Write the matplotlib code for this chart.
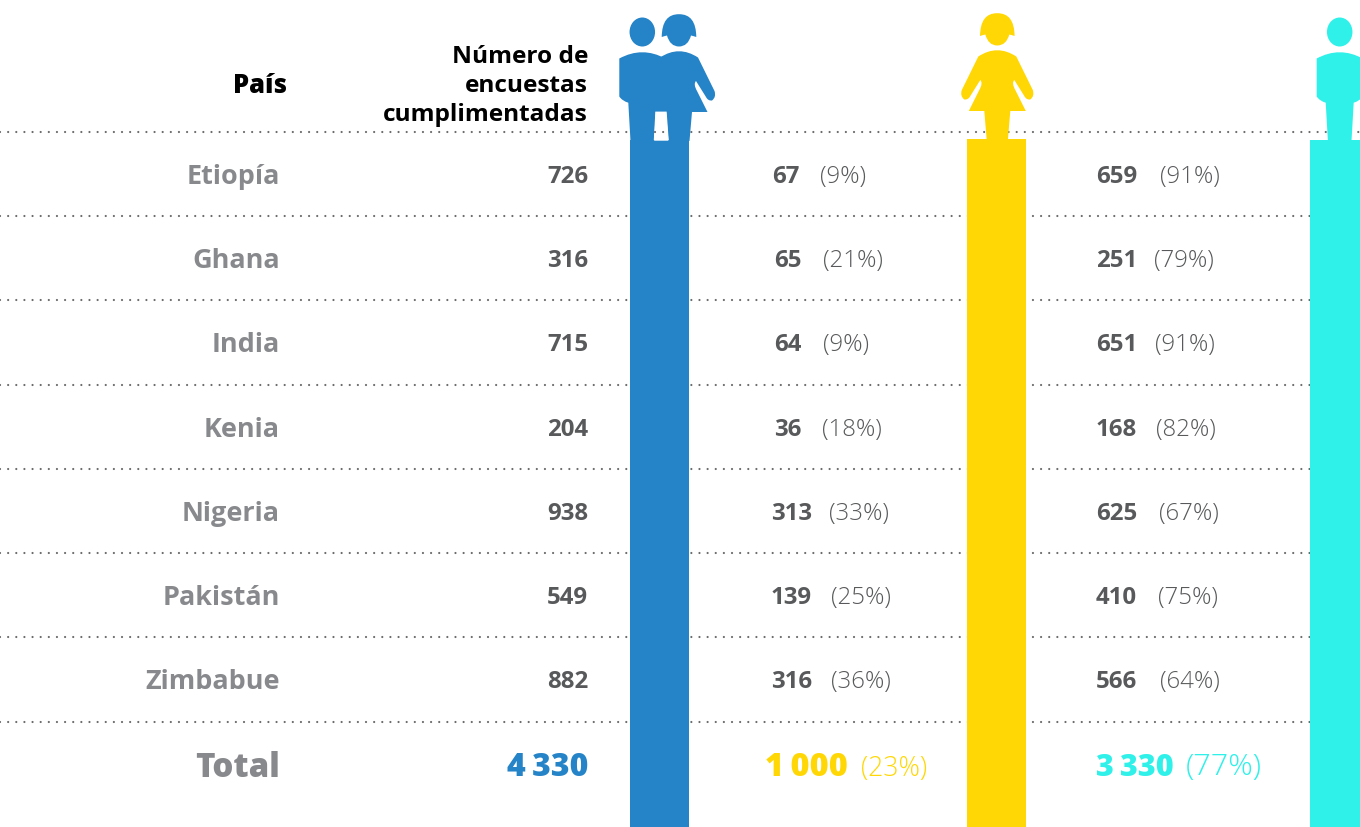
import matplotlib
matplotlib.use("Agg")
import matplotlib.pyplot as plt
from matplotlib.path import Path
from matplotlib.patches import PathPatch, Ellipse

countries = ["Etiopía", "Ghana", "India", "Kenia", "Nigeria", "Pakistán", "Zimbabue"]
surveys = [726, 316, 715, 204, 938, 549, 882]
women = [67, 65, 64, 36, 313, 139, 316]
women_pct = [9, 21, 9, 18, 33, 25, 36]
men = [659, 251, 651, 168, 625, 410, 566]
men_pct = [91, 79, 91, 82, 67, 75, 64]
total_label = "Total"
total_surveys = "4\u2009330"
total_women = "1\u2009000"
total_women_pct = 23
total_men = "3\u2009330"
total_men_pct = 77

BLUE, YELLOW, CYAN = "#2583C7", "#FFD705", "#2FF1E9"
GREY_LABEL, GREY_VAL, GREY_PCT, DOT = "#88898C", "#58595B", "#58595B", "#6A6A6A"
FAM = "Open Sans"

fig = plt.figure(figsize=(13.6, 8.27), dpi=100)
ax = fig.add_axes([0, 0, 1, 1])
ax.set_xlim(0, 1360)
ax.set_ylim(827, 0)
ax.axis("off")
r = fig.canvas.get_renderer()
px = 0.72

# layout
row_y = [174, 258, 342, 427, 511, 595, 679]
rule_y = [131.5, 215.5, 299.5, 384.5, 468.5, 552.5, 636.5, 721.5]
women_x = [772, 774, 774, 774, 771, 771, 771]
women_pct_x = [820, 823, 823, 822, 829, 831, 831]
men_pct_x = [1160, 1154, 1155, 1156, 1159, 1158, 1160]
MALE_LEFT = 1096
DOTS = (0, (0.01, 3.65))
for y in rule_y:
    ax.plot([0, 1360], [y, y], color=DOT, lw=1.6, dash_capstyle="round",
            linestyle=DOTS, zorder=1)

# columns
ax.bar([659.5], [687], bottom=[140], width=59, color=BLUE, zorder=2)
ax.bar([996.5], [688], bottom=[139], width=59, color=YELLOW, zorder=2)
ax.bar([1339.7], [687], bottom=[140], width=59, color=CYAN, zorder=2)


def add_path(pts, color):
    verts, codes = [], []
    for i, p in enumerate(pts):
        if len(p) == 2:
            verts.append(p)
            codes.append(Path.MOVETO if i == 0 else Path.LINETO)
        else:
            verts += [(p[0], p[1]), (p[2], p[3])]
            codes += [Path.CURVE3, Path.CURVE3]
    verts.append(verts[0])
    codes.append(Path.CLOSEPOLY)
    ax.add_patch(PathPatch(Path(verts, codes), fc=color, ec="none", zorder=3))


def man(cx, color):
    ax.add_patch(Ellipse((cx, 32), 25.5, 29, fc=color, ec="none", zorder=3))
    add_path([
        (cx - 23, 58.5), (cx, 46, cx + 23, 58.5),
        (cx + 23, 96.5), (cx + 20, 101, cx + 14, 102.7),
        (cx + 11.8, 141), (cx - 11.8, 141), (cx - 14, 102.7),
        (cx - 20, 101, cx - 23, 96.5),
    ], color)


def woman(cx, dy, color):
    # hair and head
    add_path([
        (cx - 17.3, 36 + dy), (cx - 17, 13 + dy, cx, 13.2 + dy),
        (cx + 17, 13 + dy, cx + 17.3, 36 + dy),
        (cx + 14, 35 + dy), (cx + 12, 34.5 + dy),
        (cx + 9, 45.5 + dy, cx, 45.5 + dy),
        (cx - 9, 45.5 + dy, cx - 12, 34.5 + dy),
        (cx - 14, 35 + dy),
    ], color)
    # dress, arms, leg
    add_path([
        (cx - 19, 56.5 + dy), (cx, 44 + dy, cx + 19, 56.5 + dy),
        (cx + 35.5, 90 + dy), (cx + 37.5, 96 + dy, cx + 33, 99.5 + dy),
        (cx + 29, 100 + dy, cx + 27, 96 + dy),
        (cx + 17, 80 + dy), (cx + 14, 83 + dy, cx + 18, 90 + dy),
        (cx + 28.5, 111 + dy), (cx + 13, 111 + dy), (cx + 10.5, 141),
        (cx - 10.5, 141), (cx - 13, 111 + dy), (cx - 28.5, 111 + dy),
        (cx - 18, 90 + dy), (cx - 14, 83 + dy, cx - 17, 80 + dy),
        (cx - 27, 96 + dy), (cx - 29, 100 + dy, cx - 33, 99.5 + dy),
        (cx - 37.5, 96 + dy, cx - 35.5, 90 + dy),
    ], color)


man(642.3, BLUE)
woman(679, 1, BLUE)
# gap between the legs of the couple
ax.fill([656, 666, 668, 654.5], [112.3, 112.3, 140, 140], color="white", zorder=3.5)
ax.plot([654.5, 668], [131.5, 131.5], color=DOT, lw=1.6, dash_capstyle="round",
        linestyle=DOTS, zorder=3.6)
woman(997.3, 0, YELLOW)
man(1339.7, CYAN)


def T(x, y, s, size, color=GREY_VAL, weight=700, ha="left"):
    return ax.text(x, y, s, fontsize=size * px, color=color, fontweight=weight,
                   family=FAM, ha=ha, va="center_baseline", zorder=5)


# header
T(287, 83, "País", 25.5, "black", 800, ha="right")
for y, s in zip([54, 83, 112], ["Número de", "encuestas", "cumplimentadas"]):
    T(588, y, s, 24.4, "black", 700, ha="right")

for i, y in enumerate(row_y):
    T(280, y, countries[i], 27, GREY_LABEL, 700, ha="right")
    T(588, y, str(surveys[i]), 24, GREY_VAL, 700, ha="right")
    T(women_x[i], y, str(women[i]), 24)
    T(women_pct_x[i], y, f"({women_pct[i]}%)", 24, GREY_PCT, 300)
    T(MALE_LEFT, y, str(men[i]), 24)
    T(men_pct_x[i], y, f"({men_pct[i]}%)", 24, GREY_PCT, 300)

# total row
TY = 764
T(280, TY, total_label, 33, GREY_LABEL, 800, ha="right")
T(588, TY, total_surveys, 32, BLUE, 800, ha="right")
T(765, TY, total_women, 32.5, YELLOW, 800)
T(861, TY + 1, f"({total_women_pct}%)", 26.5, YELLOW, 300)
T(1096, TY, total_men, 30.5, CYAN, 800)
T(1186, TY, f"({total_men_pct}%)", 30.5, CYAN, 300)

fig.savefig("out.png", dpi=100)
